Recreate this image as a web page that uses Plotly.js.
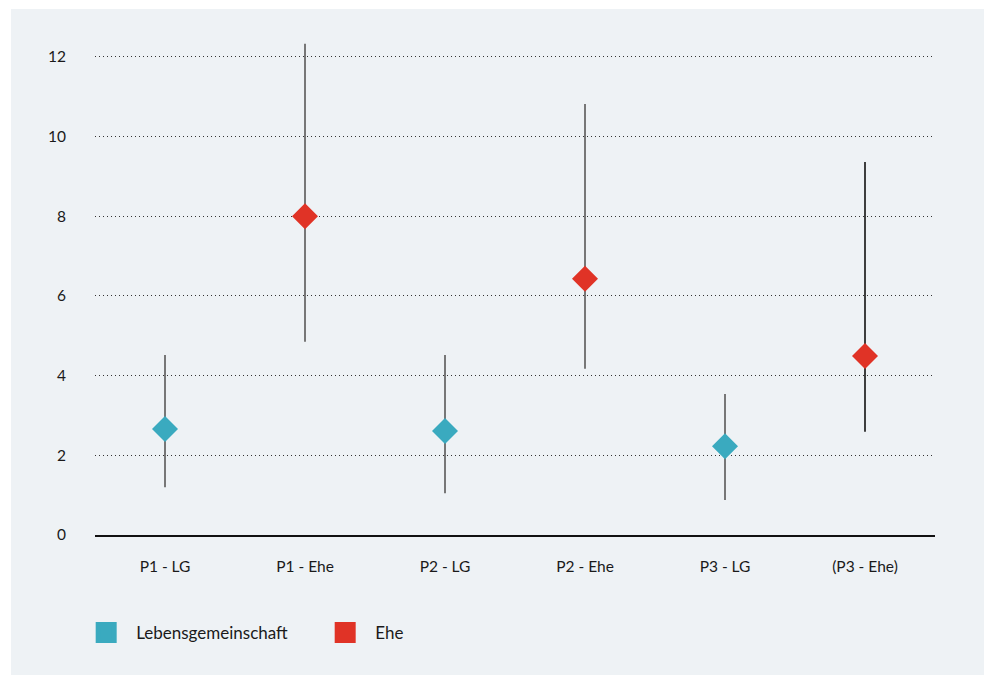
<!DOCTYPE html>
<html>
<head>
<meta charset="utf-8">
<script src="https://cdn.plot.ly/plotly-3.0.1.min.js"></script>
<style>html,body{margin:0;padding:0;background:#fff;}#chart{width:984px;height:675px;}</style>
</head>
<body>
<div id="chart"></div>
<script>
const categories = ["P1 - LG", "P1 - Ehe", "P2 - LG", "P2 - Ehe", "P3 - LG", "(P3 - Ehe)"];
const groups = ["LG", "Ehe", "LG", "Ehe", "LG", "Ehe"];
const values = [2.66, 8.0, 2.61, 6.43, 2.23, 4.49];
const upper = [4.52, 12.33, 4.52, 10.82, 3.54, 9.36];
const lower = [1.2, 4.85, 1.05, 4.17, 0.88, 2.59];
const seriesNames = {LG: "Lebensgemeinschaft", Ehe: "Ehe"};
const colors = {LG: "#3aaabf", Ehe: "#e03326"};
const yTicks = [0, 2, 4, 6, 8, 10, 12];

const font = "Lato, 'Open Sans', sans-serif";
const traces = [];
categories.forEach((c, i) => {
  const g = groups[i];
  const last = i === categories.length - 1;
  traces.push({
    type: "scatter", mode: "markers",
    x: [c], y: [values[i]],
    error_y: {type: "data", symmetric: false,
      array: [upper[i] - values[i]], arrayminus: [values[i] - lower[i]],
      color: last ? "#111111" : "#777777", thickness: last ? 1.6 : 2, width: 0},
    marker: {symbol: "diamond", size: 20, color: colors[g]},
    showlegend: false, hoverinfo: "x+y"
  });
});
["LG", "Ehe"].forEach(g => {
  traces.push({
    type: "scatter", mode: "markers", x: [null], y: [null],
    name: seriesNames[g],
    marker: {symbol: "square", size: 16, color: colors[g], line: {color: colors[g], width: 5}},
    showlegend: true
  });
});

const layout = {
  width: 984, height: 675,
  paper_bgcolor: "#ffffff",
  plot_bgcolor: "rgba(0,0,0,0)",
  margin: {l: 95, r: 49, t: 33, b: 140},
  font: {family: font, size: 15, color: "#1a1a1a"},
  xaxis: {
    type: "category", categoryorder: "array", categoryarray: categories,
    range: [-0.5, 5.5],
    showgrid: false, zeroline: false,
    showline: true, linecolor: "#111111", linewidth: 1.5,
    ticks: "", ticklabelstandoff: 17,
    tickfont: {family: font, size: 15.5, color: "#1a1a1a"}
  },
  yaxis: {
    range: [0, 12.6],
    tickvals: yTicks, ticktext: yTicks.map(String),
    showgrid: true, gridcolor: "#333333", griddash: "1px,3px", gridwidth: 1,
    zeroline: false, showline: false,
    ticks: "", ticklabelstandoff: 28,
    tickfont: {family: font, size: 15.5, color: "#1a1a1a"}
  },
  showlegend: true,
  legend: {
    orientation: "h", x: -0.0224, xanchor: "left", y: -0.195, yanchor: "middle",
    bgcolor: "rgba(0,0,0,0)", itemwidth: 50,
    font: {family: font, size: 17, color: "#1a1a1a"},
    entrywidth: 174, entrywidthmode: "pixels"
  },
  shapes: [{
    type: "rect", xref: "paper", yref: "paper", layer: "below",
    x0: (11 - 95) / 840, x1: (984 - 95) / 840,
    y0: (535 - 676) / 502, y1: (535 - 9) / 502,
    fillcolor: "#eef2f5", line: {width: 0}
  }]
};

Plotly.newPlot("chart", traces, layout, {displayModeBar: false, staticPlot: true});
</script>
</body>
</html>
